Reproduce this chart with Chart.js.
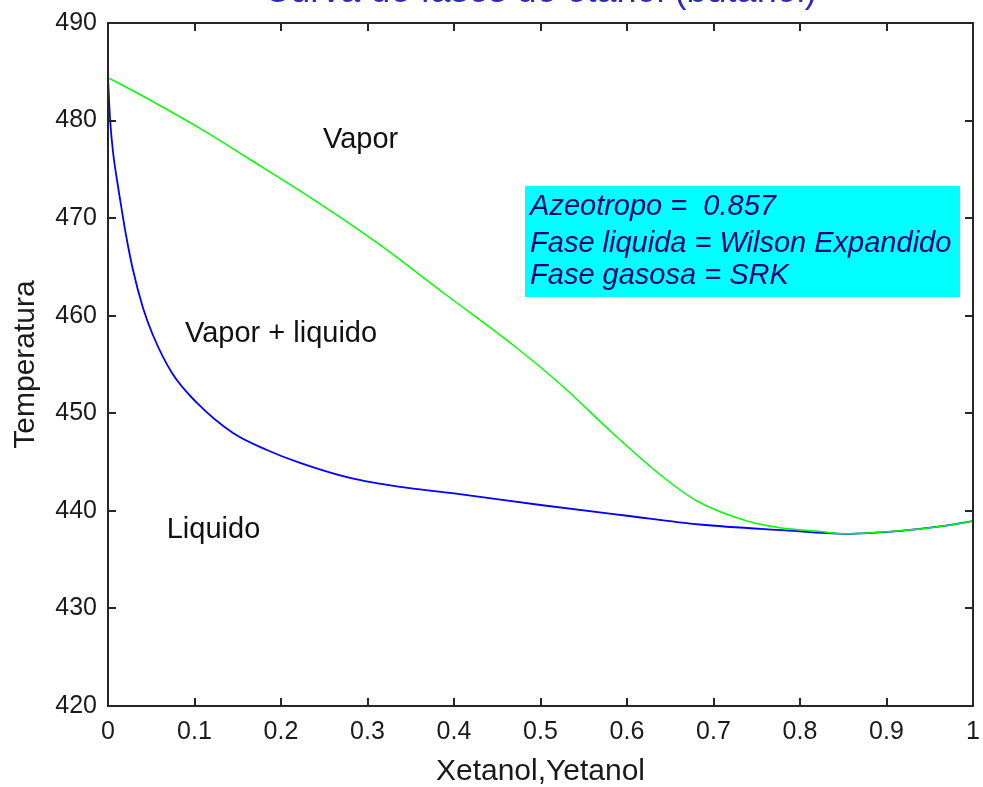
<!DOCTYPE html>
<html><head><meta charset="utf-8">
<script src="https://cdn.jsdelivr.net/npm/chart.js@4.4.0/dist/chart.umd.min.js"></script>
<style>html,body{margin:0;padding:0;background:#fff;overflow:hidden}#wrap{position:relative;width:983px;height:787px}</style>
</head><body><div id="wrap"><canvas id="c" width="983" height="787"></canvas></div>
<script>
// ---- data ----
const liquidX = [0, 0.0023, 0.0058, 0.0104, 0.015, 0.0208, 0.0289, 0.0405, 0.052, 0.074, 0.1029, 0.1445, 0.1838, 0.222, 0.2798, 0.3376, 0.4, 0.5, 0.6, 0.684, 0.783, 0.852, 0.916, 0.962, 1.0];
const liquidT = [484.4, 480.26, 476.78, 473.91, 471.35, 468.27, 464.68, 460.79, 458.0, 454.13, 451.06, 447.98, 446.24, 444.91, 443.37, 442.45, 441.8, 440.6, 439.5, 438.6, 438.0, 437.65, 437.95, 438.4, 438.95];
const vaporX = [0, 0.0486, 0.1064, 0.1642, 0.222, 0.2717, 0.3145, 0.3919, 0.4682, 0.526, 0.5838, 0.6416, 0.6809, 0.7387, 0.7769, 0.8231, 0.852, 0.9156, 0.9618, 1.0];
const vaporT = [484.4, 482.11, 479.19, 476.01, 472.8, 469.9, 467.25, 462.07, 457.0, 452.75, 447.93, 443.47, 441.01, 438.96, 438.27, 437.88, 437.65, 437.95, 438.4, 438.95];
const xTicks = [0, 0.1, 0.2, 0.3, 0.4, 0.5, 0.6, 0.7, 0.8, 0.9, 1];
const xTickLabels = ['0', '0.1', '0.2', '0.3', '0.4', '0.5', '0.6', '0.7', '0.8', '0.9', '1'];
const yTicks = [420, 430, 440, 450, 460, 470, 480, 490];
const yTickLabels = ['420', '430', '440', '450', '460', '470', '480', '490'];
const titleText = 'Curva de fases de etanol (butanol)';
const xLabel = 'Xetanol,Yetanol';
const yLabel = 'Temperatura';
const regionLabels = ['Vapor', 'Vapor + liquido', 'Liquido'];
const infoLines = ['Azeotropo =  0.857', 'Fase liquida = Wilson Expandido', 'Fase gasosa = SRK'];

// ---- placement of annotations (data coordinates) ----
const regionPos = [[0.2486, 477.19], [0.089, 457.34], [0.0679, 437.19]];
const infoBox = {x0: 0.4821, x1: 0.985, yTop: 473.29, yBot: 461.92};
const infoTextX = 0.4879;
const infoBaselines = [470.32, 466.56, 463.30];

const FONT = '"Liberation Sans", Arial, sans-serif';

const decor = {
  id: 'decor',
  beforeDatasetsDraw(chart) {
    const {ctx, scales: {x, y}} = chart;
    ctx.save();
    ctx.fillStyle = '#00ffff';
    const l = x.getPixelForValue(infoBox.x0), r = x.getPixelForValue(infoBox.x1);
    const t = y.getPixelForValue(infoBox.yTop), b = y.getPixelForValue(infoBox.yBot);
    ctx.fillRect(l, t, r - l, b - t);
    ctx.restore();
  },
  afterDatasetsDraw(chart) {
    const {ctx, chartArea: a, scales: {x, y}} = chart;
    ctx.save();
    ctx.strokeStyle = '#262626';
    ctx.lineWidth = 2;
    ctx.strokeRect(a.left, a.top, a.right - a.left, a.bottom - a.top);
    ctx.beginPath();
    const tl = 8;
    xTicks.forEach(v => {
      const px = Math.round(x.getPixelForValue(v));
      ctx.moveTo(px, a.bottom); ctx.lineTo(px, a.bottom - tl);
      ctx.moveTo(px, a.top); ctx.lineTo(px, a.top + tl);
    });
    yTicks.forEach(v => {
      const py = Math.round(y.getPixelForValue(v));
      ctx.moveTo(a.left, py); ctx.lineTo(a.left + tl, py);
      ctx.moveTo(a.right, py); ctx.lineTo(a.right - tl, py);
    });
    ctx.stroke();
    ctx.fillStyle = '#111';
    ctx.font = '29px ' + FONT;
    ctx.textBaseline = 'alphabetic';
    ctx.textAlign = 'left';
    regionLabels.forEach((s, i) => {
      ctx.fillText(s, x.getPixelForValue(regionPos[i][0]), y.getPixelForValue(regionPos[i][1]));
    });
    ctx.fillStyle = '#00007a';
    ctx.font = 'italic 29px ' + FONT;
    infoLines.forEach((s, i) => {
      ctx.fillText(s, x.getPixelForValue(infoTextX), y.getPixelForValue(infoBaselines[i]));
    });
    ctx.fillStyle = '#2a2ab4';
    ctx.font = '36px ' + FONT;
    ctx.textAlign = 'center';
    ctx.fillText(titleText, (a.left + a.right) / 2, 1.5);
    ctx.restore();
  }
};

new Chart(document.getElementById('c'), {
  type: 'line',
  data: {
    datasets: [
      {label: 'Vapor', data: vaporX.map((v, i) => ({x: v, y: vaporT[i]})), borderColor: '#00ff00', borderWidth: 1.5, pointRadius: 0, cubicInterpolationMode: 'monotone', fill: false},
      {label: 'Liquido', data: liquidX.map((v, i) => ({x: v, y: liquidT[i]})), borderColor: '#0000ff', borderWidth: 1.8, pointRadius: 0, cubicInterpolationMode: 'monotone', fill: false}
    ]
  },
  options: {
    responsive: false,
    animation: false,
    devicePixelRatio: 1,
    layout: {padding: {top: 23, right: 10, left: 0, bottom: 0}},
    plugins: {legend: {display: false}, tooltip: {enabled: false}, title: {display: false}},
    scales: {
      x: {
        type: 'linear', min: 0, max: 1,
        afterBuildTicks(s) { s.ticks = xTicks.map(v => ({value: v})); },
        afterFit(s) { s.height = 81; s.paddingLeft = 0; s.paddingRight = 0; },
        grid: {display: false, drawTicks: false, tickLength: 0}, border: {display: false},
        ticks: {font: {family: FONT, size: 25}, color: '#1a1a1a', padding: 11, maxRotation: 0, autoSkip: false,
          callback(v) { const i = xTicks.indexOf(v); return i >= 0 ? xTickLabels[i] : ''; }},
        title: {display: true, text: xLabel, font: {family: FONT, size: 30}, color: '#1a1a1a', padding: {top: 0, bottom: -3}}
      },
      y: {
        type: 'linear', min: 420, max: 490,
        afterBuildTicks(s) { s.ticks = yTicks.map(v => ({value: v})); },
        afterFit(s) { s.width = 108; s.paddingTop = 0; s.paddingBottom = 0; },
        grid: {display: false, drawTicks: false, tickLength: 0}, border: {display: false},
        ticks: {font: {family: FONT, size: 25}, color: '#1a1a1a', padding: 11, autoSkip: false,
          callback(v) { const i = yTicks.indexOf(v); return i >= 0 ? yTickLabels[i] : ''; }},
        title: {display: true, text: yLabel, font: {family: FONT, size: 30}, color: '#1a1a1a', padding: {top: 8, bottom: 0}}
      }
    }
  },
  plugins: [decor]
});
</script>
</body></html>
